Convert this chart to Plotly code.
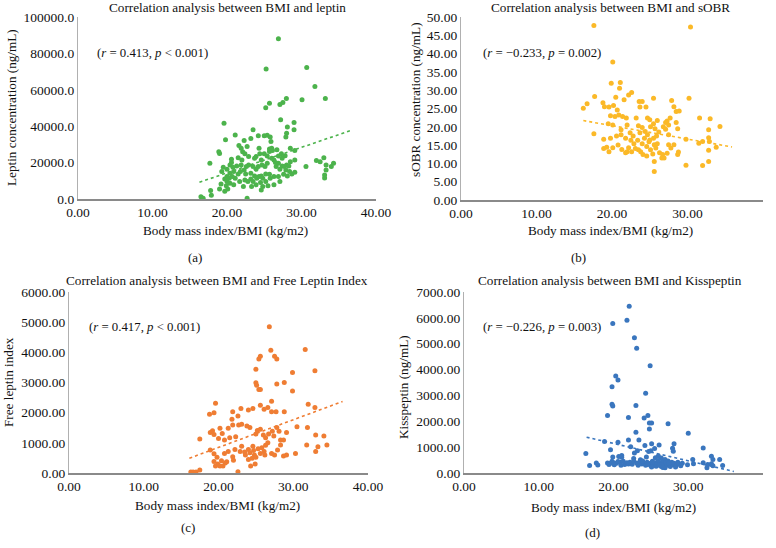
import plotly.graph_objects as go

# ---------------- data ----------------
bmi_a = [26.9,25.25,30.7,31.8,33.2,30.07,27.97,27.5,27.1,25.7,25.2,27.2,19.6,29.0,29.0,28.1,28.0,27.9,23.5,23.2,24.2,25.0,25.4,25.8,21.1,19.8,22.3,25.9,21.6,21.9,22.7,18.9,19.0,24.3,25.7,26.0,25.7,26.1,26.7,28.5,29.1,22.1,22.4,22.9,24.4,25.0,23.9,25.4,26.9,27.3,27.8,27.4,26.0,26.3,24.6,23.7,22.0,21.5,20.6,20.6,17.7,32.0,32.5,33.0,34.3,34.0,33.3,33.3,33.1,33.1,30.6,29.1,28.5,29.1,28.7,28.0,27.4,26.9,26.5,26.6,27.1,27.7,27.9,28.3,28.4,27.6,26.9,26.3,25.8,25.7,25.2,24.8,24.6,24.3,25.1,25.4,24.7,24.2,23.9,23.5,22.9,22.6,22.3,21.9,21.3,20.8,20.4,20.0,19.5,19.3,20.4,20.9,21.5,21.8,22.5,23.2,23.7,23.2,22.8,22.4,21.7,21.1,20.7,20.3,20.0,19.7,20.0,20.4,19.2,20.9,19.9,20.1,19.7,19.0,17.8,17.9,16.5,16.8,22.7,23.5,24.0,24.5,25.2,25.5,23.9,24.8,24.6,23.3,22.2,26.3,27.1,28.1]
leptin_a = [88000,71400,72300,61800,55200,54600,55200,53000,51900,52600,50200,43500,41600,42000,38000,39500,36100,34000,38000,33200,34700,34700,35000,34000,35200,32500,32100,31600,29400,27900,28800,26000,25000,27900,27500,27900,26100,26600,27000,27900,26600,26000,24800,23300,24800,24800,23300,23600,23600,24800,23800,22400,22400,21400,21400,22400,21400,22600,21800,20000,19600,21100,20500,22600,19600,17800,18700,16000,13200,11500,17800,21400,20500,14700,13800,18700,18200,19600,20000,17800,16300,17800,16000,18200,15100,13600,12300,12300,11400,13600,13800,11400,12700,12300,17800,19600,18700,17800,16300,17800,18700,17800,16000,18700,18200,17400,18700,16300,17400,15100,14200,15100,13800,15100,13800,14200,12700,11000,9600,10500,9600,11400,12300,11400,12300,11000,9600,8700,8300,7800,7300,5500,4200,5500,4700,2000,1300,400,400,9600,11400,9100,9600,7300,7800,6800,5000,6800,6800,7800,9600,12700]
trend_a_x = [16.3, 36.6]
trend_a_y = [9200, 37600]

bmi_b = [17.6,30.4,20.1,19.9,21.1,21.0,22.6,22.2,20.5,17.7,21.6,25.5,30.2,23.6,24.0,27.9,16.7,16.2,18.8,19.0,19.6,20.2,20.7,23.7,24.5,28.2,28.5,28.9,19.8,20.4,20.9,21.4,21.9,23.2,24.7,25.0,26.0,27.7,27.3,31.6,33.0,34.3,32.8,17.6,19.5,20.1,21.2,21.2,22.0,22.4,22.8,23.5,24.0,23.7,24.4,24.7,25.1,25.5,25.7,26.2,25.9,26.8,27.1,27.1,27.5,28.5,28.7,27.5,29.8,31.5,32.0,32.8,32.9,33.8,32.8,32.8,32.0,29.8,25.6,18.9,19.3,19.8,19.6,20.1,20.6,20.8,21.8,22.0,22.2,22.6,22.9,23.4,23.8,24.0,24.3,24.6,24.9,25.1,25.4,25.6,25.8,26.0,26.3,26.7,26.6,26.9,27.3,27.5,27.8,28.2,28.7,28.8,25.6,24.6,24.1,23.5,21.8,23.1,21.3,25.0,25.5,22.5,18.9]
sobr_b = [47.7,47.3,37.7,31.9,32.1,30.5,29.4,28.7,28.1,28.3,27.4,27.8,27.8,26.9,26.9,27.2,26.3,25.1,26.6,25.5,25.4,25.8,24.6,25.4,25.4,25.5,24.2,24.3,23.0,22.8,23.2,22.8,22.4,22.4,22.4,21.9,21.7,22.4,21.6,22.4,22.2,20.1,19.2,18.1,20.8,20.5,19.2,17.8,20.5,18.4,17.5,20.3,19.8,18.4,18.7,17.8,20.0,20.8,19.5,18.6,17.5,20.0,19.3,21.2,20.5,21.2,19.5,17.8,16.6,15.5,16.0,17.0,16.0,14.4,13.6,10.5,9.4,9.5,7.8,14.1,14.4,16.9,13.2,14.3,17.5,15.0,16.9,13.2,14.3,13.2,15.4,16.3,13.2,15.4,16.9,14.6,15.9,13.7,12.6,15.1,14.2,15.4,12.9,12.4,11.5,11.5,12.8,15.1,14.2,15.1,12.4,13.1,10.5,12.0,12.4,13.7,12.9,14.1,13.8,16.4,16.9,16.3,16.6]
trend_b_x = [16.2, 35.9]
trend_b_y = [21.7, 14.5]

bmi_c = [26.8,27.0,31.6,25.6,25.4,27.5,27.8,32.9,29.9,25.0,25.0,25.1,25.4,25.6,27.8,28.8,29.9,19.6,19.4,18.8,21.9,23.0,24.0,24.6,25.6,26.1,26.6,27.1,27.1,27.7,28.8,32.0,32.9,21.8,22.6,22.7,23.1,23.8,24.2,21.9,21.3,20.2,19.2,18.9,19.4,20.5,20.0,20.8,21.5,22.3,25.0,25.2,25.6,26.0,26.3,26.7,27.2,27.4,27.8,28.1,28.3,28.7,29.1,30.5,31.9,33.0,34.1,31.8,33.3,34.5,33.0,30.3,17.5,18.9,19.4,19.8,19.4,19.9,20.4,20.2,19.6,20.6,21.1,20.8,21.3,21.9,22.2,22.9,23.1,23.6,24.0,24.2,24.6,24.8,24.5,25.0,24.9,24.3,25.6,25.8,26.3,26.6,26.1,27.1,27.9,28.3,27.5,28.7,29.1,26.2,22.6,16.3,16.6,17.0,17.5,23.5,24.7,25.3,24.0,22.0,20.9]
fli_c = [4850,4070,4090,3870,3780,3870,3780,3390,3330,3440,2990,2910,2770,2770,2950,3000,2720,2310,2000,1950,2030,2140,2090,2140,2250,2110,2170,2380,2030,2030,2030,2280,2170,1780,1890,1590,1620,1560,1510,1590,1480,1480,1400,1340,1280,1310,1140,1090,1170,1200,1290,1410,1450,1260,1170,1290,1380,1230,1510,1380,1090,1090,1340,1530,1510,1260,1230,930,870,930,710,650,1130,760,640,520,380,300,410,230,230,230,370,650,710,540,780,710,890,600,780,670,890,600,490,520,300,230,650,840,920,1000,710,650,760,930,600,560,600,600,40,30,30,30,100,700,750,800,450,420,330]
trend_c_x = [16.1, 36.6]
trend_c_y = [490, 2370]

bmi_d = [22.1,19.9,21.8,22.8,23.1,24.9,20.3,20.6,19.8,24.3,19.8,19.9,23.0,19.2,22.0,24.1,24.6,24.8,25.1,24.8,27.3,30.0,23.0,18.8,20.6,22.0,23.4,24.2,25.1,26.1,28.1,27.9,32.0,19.6,16.3,22.3,22.8,23.2,24.7,25.0,25.5,25.6,26.0,28.0,20.7,21.1,19.9,21.1,30.6,33.1,33.3,34.2,22.7,26.4,24.4,26.9,16.8,17.7,17.9,19.2,19.5,19.8,20.0,20.4,20.9,21.3,21.5,21.8,22.2,22.5,22.7,23.1,23.3,23.6,23.8,24.0,24.3,24.5,24.8,25.0,25.2,25.3,25.5,25.7,25.8,25.9,26.1,26.2,26.4,26.5,26.7,26.9,27.0,27.2,27.3,27.5,27.6,27.8,27.9,28.1,28.3,28.4,28.6,28.8,29.0,29.2,29.9,30.7,32.0,32.5,32.6,33.1,33.3,34.6,20.1,21.0,22.0,23.5,24.6,26.0,27.4,25.1,26.6,20.6,19.4,23.9]
kiss_d = [6450,5780,5910,5230,4820,4150,3750,3600,3340,3080,2660,2590,2610,2220,2150,2130,2220,1930,1930,1700,1900,1540,1580,1220,1190,1280,1280,1060,1130,1080,1130,960,970,900,750,1020,770,860,830,860,950,590,655,840,640,680,616,610,520,650,520,520,560,580,620,520,290,390,310,390,370,450,400,380,420,450,330,400,420,340,450,390,300,510,350,390,300,420,370,280,450,330,400,260,350,430,300,380,250,420,330,200,400,300,460,350,250,420,320,380,230,300,420,350,280,380,320,360,400,200,330,360,280,290,320,300,350,420,330,480,380,230,210,440,330,460]
trend_d_x = [16.4, 36.1]
trend_d_y = [1385, 60]

titles = ["Correlation analysis between BMI and leptin",
          "Correlation analysis between BMI and sOBR",
          "Correlation analysis between BMI and Free Leptin Index",
          "Correlation analysis between BMI and Kisspeptin"]
ytitles = ["Leptin concentration (ng/mL)", "sOBR concentration (ng/mL)",
           "Free leptin index", "Kisspeptin (ng/mL)"]
xtitle = "Body mass index/BMI (kg/m2)"
stats = ["(<i>r</i> = 0.413, <i>p</i> &lt; 0.001)",
         "(<i>r</i> = \u22120.233, <i>p</i> = 0.002)",
         "(<i>r</i> = 0.417, <i>p</i> &lt; 0.001)",
         "(<i>r</i> = \u22120.226, <i>p</i> = 0.003)"]
captions = ["(a)", "(b)", "(c)", "(d)"]
y_ranges = [[0, 100000], [0, 50], [0, 6000], [0, 7000]]
y_dticks = [20000, 5, 1000, 1000]
y_formats = [".1f", ".2f", ".2f", ".2f"]
colors = ["#4CB34C", "#FBB928", "#EF7D33", "#3A76BE"]

# ---------------- layout geometry (pixels) ----------------
W, H = 776, 548
FONT = "Liberation Serif"
TXT = "#111"
# plot boxes: (left, right, top, bottom) in px
boxes = [(78, 376, 17, 199), (461, 763, 17, 200), (69, 368, 292, 473), (464, 763, 292, 473)]
title_pos = [(227, 7), (610, 7), (217, 280), (610, 280)]
xt_pos = [(225, 230), (610, 230), (217, 505), (613, 507)]
yt_pos = [(12, 108), (415, 100), (8, 382), (403, 387)]
stat_pos = [(95, 53), (481, 53), (87, 327), (481, 327)]
cap_pos = [(195, 257), (578, 257), (188, 527), (592, 532)]

def px(x):
    return x / W

def py(y):
    return 1 - y / H

xs = [bmi_a, bmi_b, bmi_c, bmi_d]
ys = [leptin_a, sobr_b, fli_c, kiss_d]
txs = [trend_a_x, trend_b_x, trend_c_x, trend_d_x]
tys = [trend_a_y, trend_b_y, trend_c_y, trend_d_y]

fig = go.Figure()
annotations = []
layout_axes = {}
for i in range(4):
    suf = "" if i == 0 else str(i + 1)
    xa, ya = "x" + suf, "y" + suf
    fig.add_trace(go.Scatter(x=xs[i], y=ys[i], mode="markers", xaxis=xa, yaxis=ya,
                             marker=dict(size=5, color=colors[i]), cliponaxis=False,
                             showlegend=False, hoverinfo="x+y"))
    fig.add_trace(go.Scatter(x=txs[i], y=tys[i], mode="lines", xaxis=xa, yaxis=ya,
                             line=dict(color=colors[i], width=1.6, dash="dot"),
                             showlegend=False, hoverinfo="skip"))
    l, r, t, b = boxes[i]
    layout_axes["xaxis" + suf] = dict(
        domain=[px(l), px(r)], anchor=ya, range=[0, 40], dtick=10, tickformat=".2f",
        showgrid=False, zeroline=False, showline=True, linecolor="#8a8a8a", linewidth=1.5,
        ticks="", automargin=False,
        tickfont=dict(family=FONT, size=13.5, color=TXT), fixedrange=True)
    layout_axes["yaxis" + suf] = dict(
        domain=[py(b), py(t)], anchor=xa, range=y_ranges[i], dtick=y_dticks[i],
        tickformat=y_formats[i], showgrid=False, zeroline=False, showline=True,
        linecolor="#b0b0b0", linewidth=1.2, ticks="", automargin=False,
        tickfont=dict(family=FONT, size=13.5, color=TXT), fixedrange=True)
    annotations.append(dict(text=titles[i], x=px(title_pos[i][0]), y=py(title_pos[i][1]),
                            xref="paper", yref="paper", showarrow=False,
                            font=dict(family=FONT, size=13.2, color=TXT),
                            xanchor="center", yanchor="middle"))
    annotations.append(dict(text=xtitle, x=px(xt_pos[i][0]), y=py(xt_pos[i][1]),
                            xref="paper", yref="paper", showarrow=False,
                            font=dict(family=FONT, size=13.2, color=TXT),
                            xanchor="center", yanchor="middle"))
    annotations.append(dict(text=ytitles[i], x=px(yt_pos[i][0]), y=py(yt_pos[i][1]),
                            xref="paper", yref="paper", showarrow=False, textangle=-90,
                            font=dict(family=FONT, size=13.2, color=TXT),
                            xanchor="center", yanchor="middle"))
    annotations.append(dict(text=stats[i], x=px(stat_pos[i][0]), y=py(stat_pos[i][1]),
                            xref="paper", yref="paper", showarrow=False,
                            font=dict(family=FONT, size=12.8, color=TXT),
                            xanchor="left", yanchor="middle"))
    annotations.append(dict(text=captions[i], x=px(cap_pos[i][0]), y=py(cap_pos[i][1]),
                            xref="paper", yref="paper", showarrow=False,
                            font=dict(family=FONT, size=13, color=TXT),
                            xanchor="center", yanchor="middle"))

fig.update_layout(width=W, height=H, margin=dict(l=0, r=0, t=0, b=0),
                  paper_bgcolor="white", plot_bgcolor="white",
                  annotations=annotations, **layout_axes)
fig.write_html("out.html", config={"displayModeBar": False},
               post_script="document.body.style.margin='0';document.body.style.overflow='hidden';")
